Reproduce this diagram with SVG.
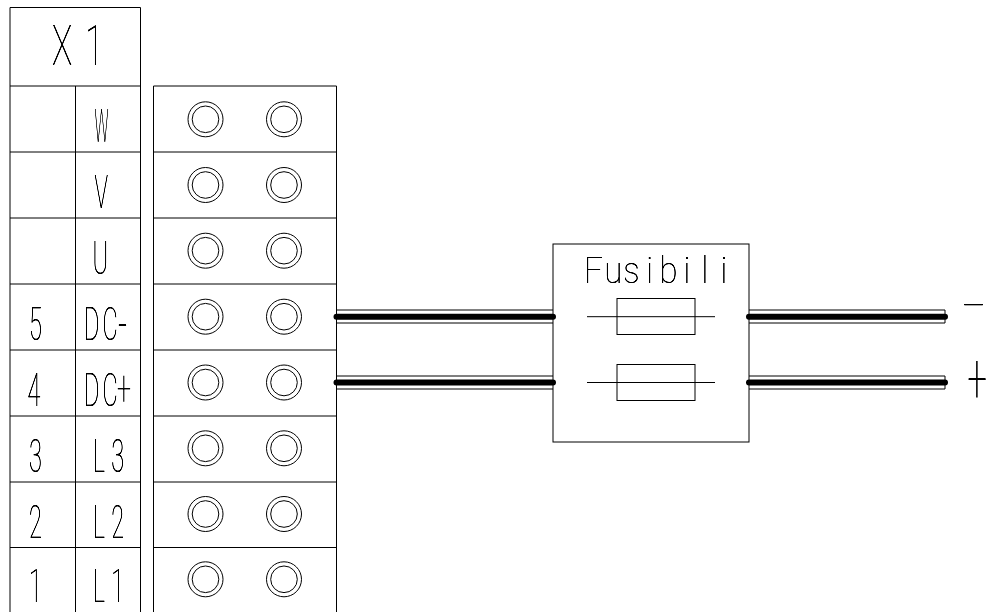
<svg xmlns="http://www.w3.org/2000/svg" width="986" height="612" viewBox="0 0 986 612">
<style>
.l{fill:none;stroke:#000;stroke-width:1}
.w{fill:none;stroke:#000;stroke-width:6;stroke-linecap:round}
text{font-family:"Roboto","Liberation Sans",sans-serif;font-weight:100;fill:#000;font-size:47px;filter:url(#gray)}
</style>
<defs>
<filter id="gray" x="-20%" y="-20%" width="140%" height="140%" color-interpolation-filters="sRGB"><feComponentTransfer><feFuncA type="linear" slope="1.7"/></feComponentTransfer></filter>
<g id="term"><circle class="l" r="17.5"/><circle class="l" r="13.3"/></g>
</defs>
<rect width="986" height="612" fill="#fff"/>
<g id="x1-table">
<path class="l" d="M10 612V7.500H140.500V612M10 86H140.500M10 152H140.500M10 218H140.500M10 284H140.500M10 350H140.500M10 416H140.500M10 482H140.500M10 547.500H140.500M75.500 86V612"/>
<text transform="translate(52,65) scale(.72,1.2)" x="0 46">X1</text>
<text transform="translate(94.500,142) scale(.33,1)">W</text>
<text transform="translate(94.500,208) scale(.48,1)">V</text>
<text transform="translate(92.500,274) scale(.5,1)">U</text>
<text transform="translate(29,340) scale(.5,1)">5</text>
<text transform="translate(84,340) scale(.5,1)" x="0 37"><tspan>DC</tspan><tspan x="68" font-size="62" y="5">-</tspan></text>
<text transform="translate(27.500,406) scale(.5,1)">4</text>
<text transform="translate(84,406) scale(.5,1)" x="0 37"><tspan>DC</tspan><tspan x="66" font-size="50" y="-1">+</tspan></text>
<text transform="translate(29,472) scale(.5,1)">3</text>
<text transform="translate(92.700,472) scale(.5,1)" x="0 37">L3</text>
<text transform="translate(29,538) scale(.5,1)">2</text>
<text transform="translate(92.700,538) scale(.5,1)" x="0 37">L2</text>
<text transform="translate(29,602) scale(.5,1)">1</text>
<text transform="translate(92.700,602) scale(.5,1)" x="0 37">L1</text>
</g>
<g id="terminal-block">
<path class="l" d="M153.500 612V86H336.500V612M153.500 152H336.500M153.500 218H336.500M153.500 284H336.500M153.500 350H336.500M153.500 416H336.500M153.500 482H336.500M153.500 547.500H336.500"/>
<use href="#term" x="205.500" y="119.300"/><use href="#term" x="284" y="119.300"/>
<use href="#term" x="205.500" y="185"/><use href="#term" x="284" y="185"/>
<use href="#term" x="205.500" y="250.700"/><use href="#term" x="284" y="250.700"/>
<use href="#term" x="205.500" y="316.700"/><use href="#term" x="284" y="316.700"/>
<use href="#term" x="205.500" y="382.500"/><use href="#term" x="284" y="382.500"/>
<use href="#term" x="205.500" y="448.300"/><use href="#term" x="284" y="448.300"/>
<use href="#term" x="205.500" y="514"/><use href="#term" x="284" y="514"/>
<use href="#term" x="205.500" y="579.300"/><use href="#term" x="284" y="579.300"/>
</g>
<g id="connectors">
<path class="l" d="M336.500 310H553M336.500 323H553M336.500 376H553M336.500 389H553M749 310H945V323H749M749 376H945V389H749"/>
<path class="w" d="M336.500 316.700H553M336.500 382.500H553M749 316.700H945M749 382.500H945"/>
</g>
<g id="fuses">
<rect class="l" x="553" y="244" width="196" height="198"/>
<text transform="translate(584,283) scale(.7,.8)" x="0 29 56 89 108 142 168 195">Fusibili</text>
<rect class="l" x="617" y="298.500" width="78" height="36"/>
<rect class="l" x="617" y="364.500" width="78" height="36"/>
<path class="l" d="M587 316.700H715M587 382.500H715"/>
</g>
<g id="polarity">
<text transform="translate(962,320) scale(1.7,1)">-</text>
<text transform="translate(967.500,402) scale(.73,1.5)">+</text>
</g>
</svg>
